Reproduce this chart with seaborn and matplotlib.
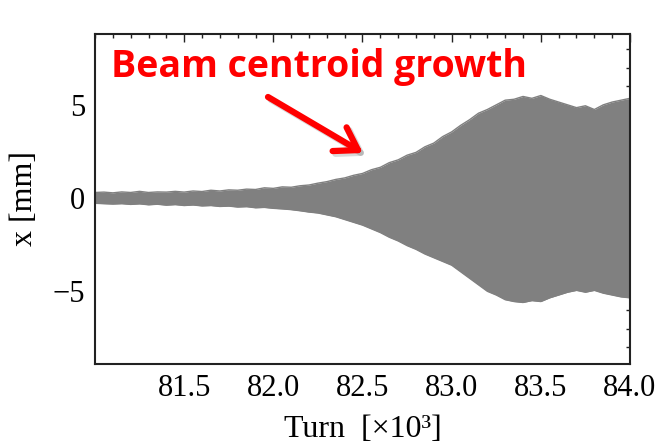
import matplotlib
matplotlib.use("Agg")
import matplotlib.pyplot as plt
import matplotlib.patheffects as pe
from matplotlib.ticker import MultipleLocator, FixedLocator
import seaborn as sns
import pandas as pd

# envelope of the centroid oscillation (turn in units of 10^3)
turn_k = [81.00, 81.05, 81.10, 81.15, 81.20, 81.25, 81.30, 81.35, 81.40, 81.45,
          81.50, 81.55, 81.60, 81.65, 81.70, 81.75, 81.80, 81.85, 81.90, 81.95,
          82.00, 82.05, 82.10, 82.15, 82.20, 82.25, 82.30, 82.35, 82.40, 82.45,
          82.50, 82.55, 82.60, 82.65, 82.70, 82.75, 82.80, 82.85, 82.90, 82.95,
          83.00, 83.05, 83.10, 83.15, 83.20, 83.25, 83.30, 83.35, 83.40, 83.45,
          83.50, 83.55, 83.60, 83.65, 83.70, 83.75, 83.80, 83.85, 83.90, 83.95,
          84.00]
upper = [0.30, 0.32, 0.28, 0.33, 0.30, 0.36, 0.30, 0.33, 0.32, 0.36,
         0.32, 0.38, 0.35, 0.42, 0.38, 0.44, 0.42, 0.48, 0.46, 0.55,
         0.52, 0.60, 0.58, 0.66, 0.70, 0.80, 0.88, 1.00, 1.08, 1.22,
         1.32, 1.52, 1.65, 1.90, 2.05, 2.30, 2.45, 2.75, 2.95, 3.30,
         3.55, 3.90, 4.20, 4.55, 4.75, 5.00, 5.25, 5.30, 5.45, 5.35,
         5.50, 5.30, 5.15, 5.00, 4.85, 4.95, 4.75, 5.00, 5.15, 5.25,
         5.35]
lower = [-0.28, -0.30, -0.32, -0.30, -0.34, -0.31, -0.36, -0.33, -0.38, -0.35,
         -0.40, -0.37, -0.42, -0.40, -0.45, -0.43, -0.48, -0.46, -0.52, -0.50,
         -0.55, -0.58, -0.62, -0.68, -0.75, -0.80, -0.90, -1.00, -1.15, -1.30,
         -1.45, -1.65, -1.85, -2.10, -2.30, -2.55, -2.75, -3.00, -3.20, -3.40,
         -3.60, -3.95, -4.30, -4.65, -5.00, -5.20, -5.45, -5.55, -5.60, -5.50,
         -5.55, -5.35, -5.20, -5.05, -4.95, -5.05, -4.95, -5.10, -5.20, -5.30,
         -5.35]

x_ticks = [81.5, 82.0, 82.5, 83.0, 83.5, 84.0]
x_ticklabels = ["81.5", "82.0", "82.5", "83.0", "83.5", "84.0"]
y_ticks = [-5, 0, 5]
y_ticklabels = ["\u22125", "0", "5"]

df = pd.DataFrame({"turn": turn_k, "upper": upper, "lower": lower})

sns.set_theme(style="white")
plt.rcParams["font.family"] = ["Liberation Serif", "DejaVu Serif"]

fig = plt.figure(figsize=(6.6, 4.48), dpi=100)
ax = fig.add_axes([95/660, 1-364/448, (630-95)/660, (364-34)/448])

gray = "#808080"
ax.fill_between(df["turn"], df["lower"], df["upper"], color=gray, lw=0)
sns.lineplot(data=df, x="turn", y="upper", ax=ax, color=gray, lw=1.0)
sns.lineplot(data=df, x="turn", y="lower", ax=ax, color=gray, lw=1.0)

ax.set_xlim(81.0, 84.0)
ax.set_ylim(-8.9, 8.8)
ax.xaxis.set_major_locator(FixedLocator(x_ticks))
ax.set_xticklabels(x_ticklabels)
ax.xaxis.set_minor_locator(MultipleLocator(0.1))
ax.yaxis.set_major_locator(FixedLocator(y_ticks))
ax.set_yticklabels(y_ticklabels)
ax.yaxis.set_minor_locator(MultipleLocator(1))

ax.tick_params(which="both", direction="in", top=True, right=True,
               color="#222222", width=1.0)
ax.tick_params(which="major", length=6, labelsize=22, pad=7, labelcolor="black")
ax.tick_params(which="minor", length=3)
for s in ax.spines.values():
    s.set_color("#222222")
    s.set_linewidth(1.5)

ax.set_xlabel("Turn  [\u00d710\u00b3]", fontsize=23, color="black", labelpad=9)
ax.set_ylabel("x [mm]", fontsize=23, color="black", labelpad=10)

fig.text(111/660, 1-77/448, "Beam centroid growth", color="#ff0000",
         fontsize=27, fontweight="bold", family=["Open Sans", "DejaVu Sans"],
         va="baseline", ha="left")

ax.annotate("", xy=(363, 448-153), xycoords="figure pixels",
            xytext=(268, 448-97), textcoords="figure pixels",
            arrowprops=dict(arrowstyle="->,head_length=0.7,head_width=0.45",
                            color="#ff0000", lw=4.5,
                            mutation_scale=22, shrinkA=0, shrinkB=0,
                            path_effects=[pe.SimpleLineShadow(offset=(2, -2), alpha=0.15, shadow_color="black"), pe.Normal()]))

fig.savefig("out.png", dpi=100)
